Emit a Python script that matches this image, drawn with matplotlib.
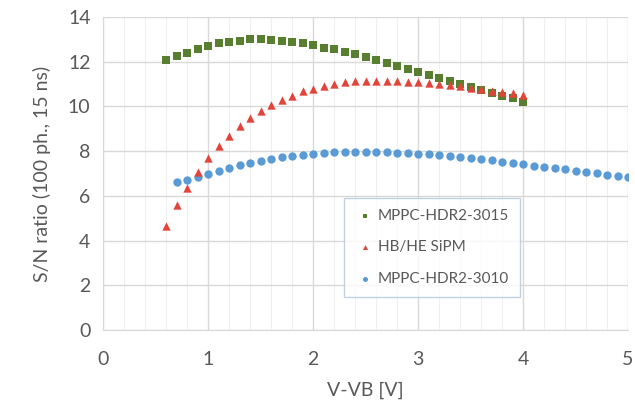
import matplotlib
matplotlib.use("Agg")
import matplotlib.pyplot as plt
import numpy as np
from matplotlib.ticker import MultipleLocator

# Data
x_3015 = [round(0.6 + 0.1 * i, 1) for i in range(35)]
y_3015 = [12.07, 12.25, 12.40, 12.55, 12.72, 12.82, 12.90, 12.94, 13.00, 13.00,
          12.95, 12.92, 12.88, 12.85, 12.75, 12.62, 12.55, 12.45, 12.33, 12.20,
          12.07, 11.94, 11.81, 11.68, 11.54, 11.39, 11.26, 11.12, 11.00, 10.85,
          10.73, 10.61, 10.47, 10.36, 10.22]

x_hbhe = [round(0.6 + 0.1 * i, 1) for i in range(35)]
y_hbhe = [4.65, 5.58, 6.37, 7.08, 7.70, 8.22, 8.68, 9.12, 9.47, 9.81,
          10.08, 10.29, 10.48, 10.67, 10.79, 10.92, 11.01, 11.08, 11.12, 11.15,
          11.15, 11.15, 11.15, 11.11, 11.09, 11.03, 10.99, 10.94, 10.91, 10.84,
          10.76, 10.70, 10.64, 10.58, 10.52]

x_3010 = [round(0.7 + 0.1 * i, 1) for i in range(44)]
y_3010 = [6.60, 6.72, 6.84, 6.99, 7.12, 7.24, 7.36, 7.47, 7.56, 7.65,
          7.74, 7.80, 7.84, 7.88, 7.92, 7.95, 7.96, 7.98, 7.98, 7.96,
          7.96, 7.93, 7.92, 7.89, 7.86, 7.81, 7.78, 7.74, 7.69, 7.63,
          7.59, 7.53, 7.47, 7.42, 7.35, 7.29, 7.23, 7.19, 7.11, 7.05,
          7.01, 6.95, 6.89, 6.83]

labels = ["MPPC-HDR2-3015", "HB/HE SiPM", "MPPC-HDR2-3010"]
x_ticks = [0, 1, 2, 3, 4, 5]
y_ticks = [0, 2, 4, 6, 8, 10, 12, 14]

green = "#587f30"
red = "#e2443a"
blue = "#5b9bd5"
textc = "#595959"

plt.rcParams['font.family'] = ['Lato', 'DejaVu Sans']

fig = plt.figure(figsize=(6.35, 4.08), dpi=100)
ax = fig.add_axes([103 / 635, 1 - 330 / 408, 525 / 635, 313 / 408])

ax.scatter(x_3015, y_3015, marker='s', s=30, color=green, zorder=3, label=labels[0], linewidths=0)
ax.scatter(x_hbhe, y_hbhe, marker='^', s=36, color=red, zorder=4, label=labels[1], linewidths=0)
ax.scatter(x_3010, y_3010, marker='o', s=36, color=blue, zorder=2, label=labels[2], linewidths=0)

ax.set_xlim(0, 5)
ax.set_ylim(0, 14)
ax.set_xticks(x_ticks)
ax.set_yticks(y_ticks)
ax.xaxis.set_minor_locator(MultipleLocator(0.2))
ax.grid(which='major', color='#d9d9d9', linewidth=1.0, zorder=0)
ax.grid(which='minor', axis='x', color='#efefef', linewidth=0.8, zorder=0)
ax.set_axisbelow(True)
for side in ['top', 'right']:
    ax.spines[side].set_visible(False)
for side in ['left', 'bottom']:
    ax.spines[side].set_color('#d9d9d9')
ax.tick_params(which='both', length=0, labelsize=14, colors=textc, pad=9)
ax.tick_params(axis='x', pad=15)

ax.set_xlabel("V-VB [V]", fontsize=14, color=textc, labelpad=10)
ax.set_ylabel("S/N ratio (100 ph., 15 ns)", fontsize=14, color=textc, labelpad=12)

leg = ax.legend(loc='upper left', bbox_to_anchor=(344 / 635, 1 - 198 / 408), bbox_transform=fig.transFigure,
                fontsize=11, frameon=True, fancybox=False, markerscale=0.6,
                handletextpad=0.2, labelspacing=1.15, borderpad=0.7, handlelength=1.3,
                borderaxespad=0)
leg.get_frame().set_edgecolor('#b4c7dc')
leg.get_frame().set_linewidth(1.0)
for t in leg.get_texts():
    t.set_color(textc)

fig.savefig("out.png", dpi=100)
